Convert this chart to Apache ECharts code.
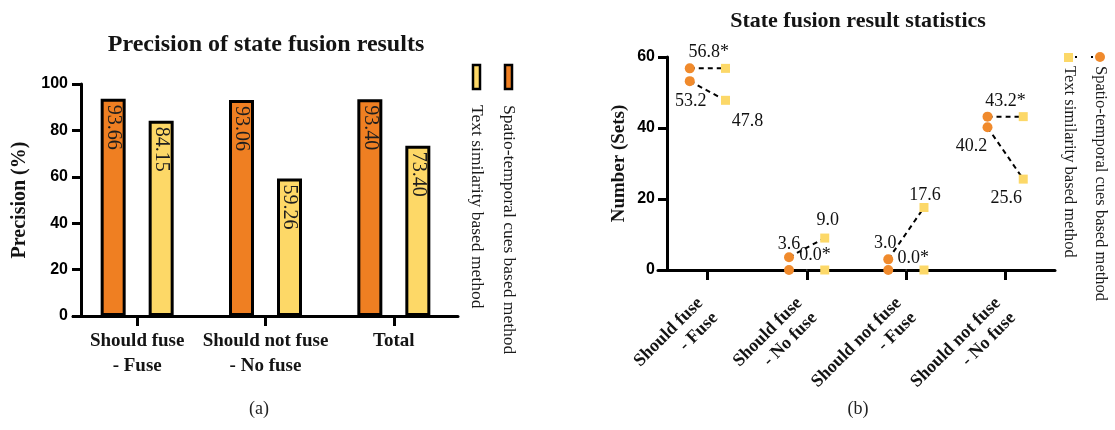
<!DOCTYPE html>
<html>
<head>
<meta charset="utf-8">
<script src="https://cdn.jsdelivr.net/npm/echarts@6/dist/echarts.min.js"></script>
<style>
html,body{margin:0;padding:0;background:#ffffff;}
#chart{width:1115px;height:430px;}
</style>
</head>
<body>
<div id="chart"></div>
<script>
// ---------------- data ----------------
const precisionCategories = ['Should fuse\n- Fuse', 'Should not fuse\n- No fuse', 'Total'];
const spatioPrecision = [93.66, 93.06, 93.40];
const textPrecision = [84.15, 59.26, 73.40];
const precisionTicks = [0, 20, 40, 60, 80, 100];

const countCategories = ['Should fuse\n- Fuse', 'Should fuse\n- No fuse', 'Should not fuse\n- Fuse', 'Should not fuse\n- No fuse'];
const spatioCountStarred = [56.8, 0.0, 0.0, 43.2];
const textCountStarred = [56.8, 0.0, 0.0, 43.2];
const spatioCount = [53.2, 3.6, 3.0, 40.2];
const textCount = [47.8, 9.0, 17.6, 25.6];
const countTicks = [0, 20, 40, 60];

const methodNames = ['Spatio-temporal cues based method', 'Text similarity based method'];
const chartTitles = ['Precision of state fusion results', 'State fusion result statistics'];
const axisNames = ['Precision (%)', 'Number (Sets)'];
const captions = ['(a)', '(b)'];

// ---------------- styles / layout ----------------
const ORANGE = '#EF7F22';
const YELLOW = '#FDD867';
const DOT_ORANGE = '#F08A2C';
const DOT_YELLOW = '#FCD868';
const SERIF = '"Liberation Serif", "DejaVu Serif", serif';
const SANS = '"Liberation Sans", Arial, sans-serif';
const PAIR = 0.18; // horizontal offset of paired markers, in category units

// label offsets (pixels, relative to the marker)
const starLabelOffset = [[1, -16], [8, -15], [7, -12], [0, -15]];
const spatioLabelOffset = [[1, 20], [0, -13], [-3, -16], [-16, 19]];
const textLabelOffset = [[22, 21], [3, -18], [1, -12], [-17, 19]];

function pairSegments(a, b) {
  const out = [];
  a.forEach((v, i) => {
    out.push([i - PAIR, v], [i + PAIR, b[i]], [i, '-']);
  });
  return out;
}

const axisLineStyle = { show: true, onZero: false, lineStyle: { color: '#000', width: 3 } };
const tickStyle = { show: true, lineStyle: { color: '#000', width: 3 } };

const dataLabel = {
  show: true, position: 'inside', fontFamily: SERIF, fontSize: 18, color: '#111111',
  opacity: 1, textBorderWidth: 0
};

const barLabel = {
  show: true, position: 'insideTop', distance: 6, rotate: -90,
  align: 'left', verticalAlign: 'middle',
  fontFamily: SERIF, fontSize: 20, color: '#1e1e1e',
  formatter: p => p.value.toFixed(2)
};

const option = {
  animation: false,
  backgroundColor: '#ffffff',
  grid: [
    { left: 73, top: 84, width: 385, height: 232 },
    { left: 658, top: 57, width: 397, height: 213 }
  ],
  xAxis: [
    {
      gridIndex: 0, type: 'category', data: precisionCategories,
      axisLine: axisLineStyle,
      axisTick: Object.assign({ alignWithLabel: true, length: 10 }, tickStyle),
      axisLabel: { interval: 0, fontFamily: SERIF, fontWeight: 'bold', fontSize: 19, lineHeight: 25, color: '#141414', margin: 13 }
    },
    {
      gridIndex: 1, type: 'category', data: countCategories,
      axisLine: axisLineStyle,
      axisTick: Object.assign({ alignWithLabel: true, length: 10 }, tickStyle),
      axisLabel: { interval: 0, rotate: 45, fontFamily: SERIF, fontWeight: 'bold', fontSize: 18, lineHeight: 21, color: '#141414', margin: 38 }
    },
    { gridIndex: 1, type: 'value', min: -0.5, max: 3.5, show: false }
  ],
  yAxis: [
    {
      gridIndex: 0, type: 'value', offset: -8,
      min: precisionTicks[0], max: precisionTicks[precisionTicks.length - 1],
      interval: precisionTicks[1] - precisionTicks[0],
      axisLine: axisLineStyle,
      axisTick: Object.assign({ length: 9 }, tickStyle),
      splitLine: { show: false },
      axisLabel: { fontFamily: SANS, fontWeight: 'bold', fontSize: 16, color: '#000', margin: 13 },
      name: axisNames[0], nameLocation: 'middle', nameGap: 51,
      nameTextStyle: { fontFamily: SERIF, fontWeight: 'bold', fontSize: 20, color: '#141414' }
    },
    {
      gridIndex: 1, type: 'value', offset: -9,
      min: countTicks[0], max: countTicks[countTicks.length - 1],
      interval: countTicks[1] - countTicks[0],
      axisLine: axisLineStyle,
      axisTick: Object.assign({ length: 9 }, tickStyle),
      splitLine: { show: false },
      axisLabel: { fontFamily: SANS, fontWeight: 'bold', fontSize: 16, color: '#000', margin: 12 },
      name: axisNames[1], nameLocation: 'middle', nameGap: 38,
      nameTextStyle: { fontFamily: SERIF, fontWeight: 'bold', fontSize: 19, color: '#141414' }
    }
  ],
  series: [
    {
      type: 'bar', name: methodNames[0], xAxisIndex: 0, yAxisIndex: 0,
      data: spatioPrecision, barWidth: 25, barGap: '92%',
      itemStyle: { color: ORANGE, borderColor: '#000', borderWidth: 3 },
      label: barLabel
    },
    {
      type: 'bar', name: methodNames[1], xAxisIndex: 0, yAxisIndex: 0,
      data: textPrecision, barWidth: 25, barGap: '92%',
      itemStyle: { color: YELLOW, borderColor: '#000', borderWidth: 3 },
      label: barLabel
    },
    // dashed connectors
    {
      type: 'line', xAxisIndex: 2, yAxisIndex: 1, silent: true, z: 1,
      data: pairSegments(spatioCountStarred, textCountStarred),
      symbol: 'none', connectNulls: false,
      lineStyle: { color: '#000', width: 2, type: [5, 4] }
    },
    {
      type: 'line', xAxisIndex: 2, yAxisIndex: 1, silent: true, z: 1,
      data: pairSegments(spatioCount, textCount),
      symbol: 'none', connectNulls: false,
      lineStyle: { color: '#000', width: 2, type: [5, 4] }
    },
    // markers
    {
      type: 'scatter', name: methodNames[0], xAxisIndex: 2, yAxisIndex: 1, z: 3,
      symbol: 'circle', symbolSize: 10, itemStyle: { color: DOT_ORANGE, opacity: 1 },
      data: spatioCountStarred.map((v, i) => [i - PAIR, v])
    },
    {
      type: 'scatter', name: methodNames[0], xAxisIndex: 2, yAxisIndex: 1, z: 3,
      symbol: 'circle', symbolSize: 10, itemStyle: { color: DOT_ORANGE, opacity: 1 },
      data: spatioCount.map((v, i) => ({ value: [i - PAIR, v], label: { offset: spatioLabelOffset[i] } })),
      label: Object.assign({ formatter: p => p.value[1].toFixed(1) }, dataLabel)
    },
    {
      type: 'scatter', name: methodNames[1], xAxisIndex: 2, yAxisIndex: 1, z: 3,
      symbol: 'rect', symbolSize: 9, itemStyle: { color: DOT_YELLOW, opacity: 1 },
      data: textCountStarred.map((v, i) => [i + PAIR, v])
    },
    {
      type: 'scatter', name: methodNames[1], xAxisIndex: 2, yAxisIndex: 1, z: 3,
      symbol: 'rect', symbolSize: 9, itemStyle: { color: DOT_YELLOW, opacity: 1 },
      data: textCount.map((v, i) => ({ value: [i + PAIR, v], label: { offset: textLabelOffset[i] } })),
      label: Object.assign({ formatter: p => p.value[1].toFixed(1) }, dataLabel)
    },
    // starred pair labels, centred on each category
    {
      type: 'scatter', xAxisIndex: 2, yAxisIndex: 1, z: 4, silent: true,
      symbolSize: 1, itemStyle: { color: '#ffffff' },
      data: spatioCountStarred.map((v, i) => ({ value: [i, v], label: { offset: starLabelOffset[i] } })),
      label: Object.assign({ formatter: p => p.value[1].toFixed(1) + '*' }, dataLabel)
    }
  ],
  graphic: [
    // titles
    { type: 'text', x: 266, y: 45, style: { text: chartTitles[0], align: 'center', verticalAlign: 'middle', font: 'bold 24px ' + SERIF, fill: '#141414' } },
    { type: 'text', x: 858, y: 21, style: { text: chartTitles[1], align: 'center', verticalAlign: 'middle', font: 'bold 22px ' + SERIF, fill: '#141414' } },
    // captions
    { type: 'text', x: 259, y: 409, style: { text: captions[0], align: 'center', verticalAlign: 'middle', font: '18px ' + SERIF, fill: '#222' } },
    { type: 'text', x: 858, y: 409, style: { text: captions[1], align: 'center', verticalAlign: 'middle', font: '18px ' + SERIF, fill: '#222' } },
    // legend (a)
    { type: 'rect', shape: { x: 473, y: 65, width: 7, height: 24 }, style: { fill: YELLOW, stroke: '#000', lineWidth: 2.5 } },
    { type: 'rect', shape: { x: 505, y: 65, width: 7, height: 24 }, style: { fill: ORANGE, stroke: '#000', lineWidth: 2.5 } },
    { type: 'text', x: 477, y: 105, rotation: -Math.PI / 2, style: { text: methodNames[1], align: 'left', verticalAlign: 'middle', font: '17.5px ' + SERIF, fill: '#1a1a1a' } },
    { type: 'text', x: 509, y: 105, rotation: -Math.PI / 2, style: { text: methodNames[0], align: 'left', verticalAlign: 'middle', font: '17.5px ' + SERIF, fill: '#1a1a1a' } },
    // legend (b)
    { type: 'rect', shape: { x: 1064, y: 53, width: 9, height: 9 }, style: { fill: DOT_YELLOW } },
    { type: 'rect', shape: { x: 1075, y: 56, width: 2, height: 2 }, style: { fill: '#000' } },
    { type: 'circle', shape: { cx: 1100, cy: 57, r: 5 }, style: { fill: DOT_ORANGE } },
    { type: 'rect', shape: { x: 1091, y: 56, width: 2, height: 2 }, style: { fill: '#000' } },
    { type: 'text', x: 1069, y: 66, rotation: -Math.PI / 2, style: { text: methodNames[1], align: 'left', verticalAlign: 'middle', font: '16.5px ' + SERIF, fill: '#1a1a1a' } },
    { type: 'text', x: 1100, y: 66, rotation: -Math.PI / 2, style: { text: methodNames[0], align: 'left', verticalAlign: 'middle', font: '16.5px ' + SERIF, fill: '#1a1a1a' } }
  ]
};

const chart = echarts.init(document.getElementById('chart'), null, { renderer: 'canvas' });
chart.setOption(option);
</script>
</body>
</html>
